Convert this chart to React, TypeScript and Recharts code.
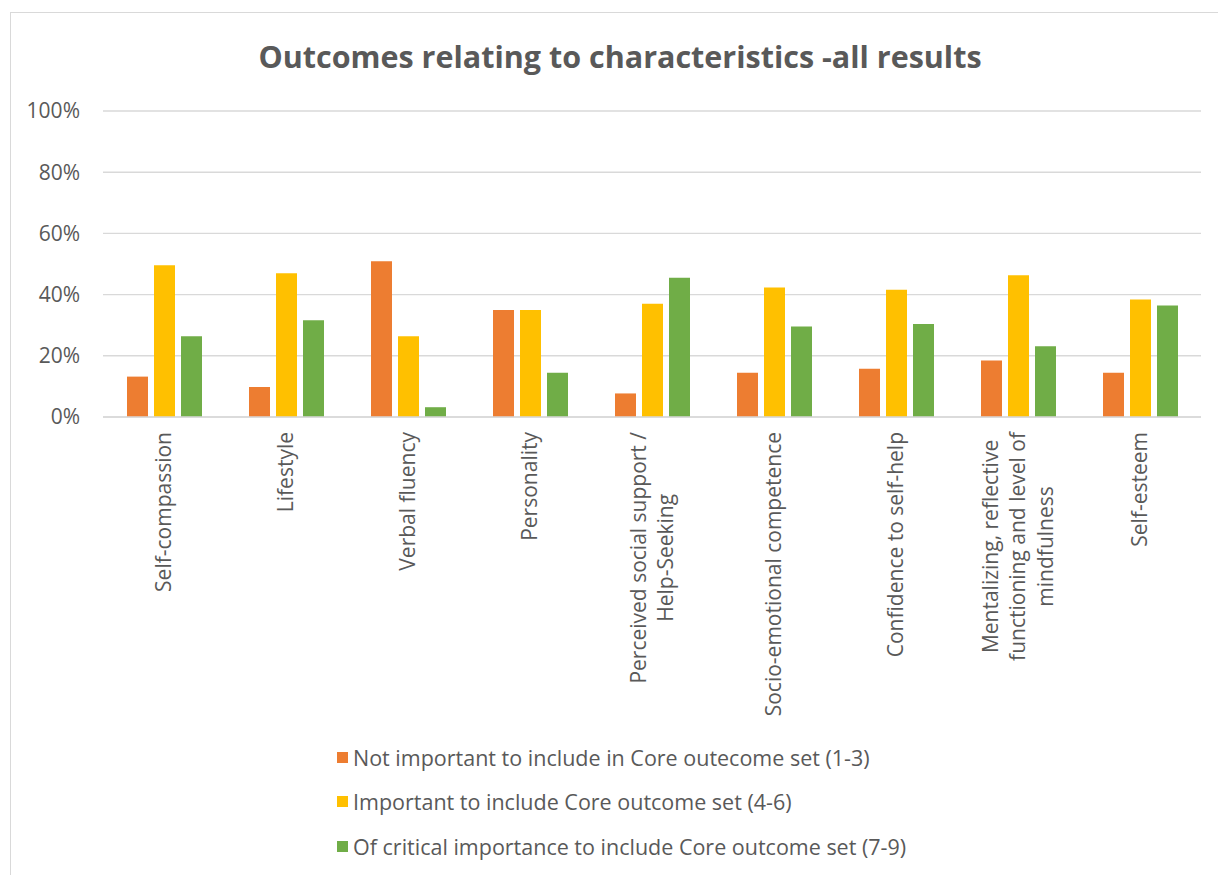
import React from 'react'
import { BarChart, Bar, XAxis, YAxis, CartesianGrid, Legend } from 'recharts'

const CATEGORIES = [
  'Self-compassion',
  'Lifestyle',
  'Verbal fluency',
  'Personality',
  'Perceived social support /\nHelp-Seeking',
  'Socio-emotional competence',
  'Confidence to self-help',
  'Mentalizing,  reflective\nfunctioning and level of\nmindfulness',
  'Self-esteem',
]
const NOT_IMPORTANT = [13.2, 9.8, 50.9, 35, 7.7, 14.5, 15.8, 18.5, 14.5]
const IMPORTANT = [49.6, 47, 26.4, 35, 37, 42.3, 41.6, 46.3, 38.4]
const CRITICAL = [26.4, 31.6, 3.2, 14.5, 45.5, 29.6, 30.4, 23.1, 36.4]
const Y_TICKS = [0, 20, 40, 60, 80, 100]

const SERIES_NAMES = [
  'Not important to include in Core outecome set (1-3)',
  'Important to include Core outcome set (4-6)',
  'Of critical importance to include Core outcome set (7-9)',
]
const COLORS = ['#ED7D31', '#FFC000', '#70AD47']

const TEXT = '#595959'
const FONT_FAMILY = '"Open Sans", sans-serif'
const FONT_SIZE = 21

const data = CATEGORIES.map((c, i) => ({
  name: c,
  low: NOT_IMPORTANT[i],
  mid: IMPORTANT[i],
  high: CRITICAL[i],
}))

let ctx: CanvasRenderingContext2D | null = null
function textWidth(s: string): number {
  if (!ctx) ctx = document.createElement('canvas').getContext('2d')
  if (!ctx) return s.length * FONT_SIZE * 0.5
  ctx.font = `${FONT_SIZE}px ${FONT_FAMILY}`
  return ctx.measureText(s).width
}

// rotated, multi-line category label; lines centred on each other, block starts under the axis
function CategoryTick(props: any) {
  const { x, y, payload } = props
  const lines = String(payload.value).split('\n')
  const maxW = Math.max(...lines.map(textWidth))
  const lh = 27.5
  const cy = y + maxW / 2
  return (
    <g>
      {lines.map((l, i) => {
        const off = (i - (lines.length - 1) / 2) * lh
        return (
          <text
            key={i}
            transform={`translate(${x + off},${cy}) rotate(-90)`}
            textAnchor="middle"
            dy="0.35em"
            fill={TEXT}
            fontSize={FONT_SIZE}
            fontFamily={FONT_FAMILY}
          >
            {l}
          </text>
        )
      })}
    </g>
  )
}

function LegendContent(props: any) {
  const items = [...(props.payload || [])].sort(
    (a: any, b: any) => SERIES_NAMES.indexOf(a.value) - SERIES_NAMES.indexOf(b.value),
  )
  return (
    <div style={{ fontFamily: FONT_FAMILY, fontSize: 21.5, color: TEXT }}>
      {items.map((p: any) => (
        <div key={p.value} style={{ display: 'flex', alignItems: 'center', height: 44.5, whiteSpace: 'nowrap' }}>
          <span style={{ width: 11, height: 11, background: p.color, marginRight: 5, display: 'inline-block' }} />
          <span>{p.value}</span>
        </div>
      ))}
    </div>
  )
}

export default function App() {
  return (
    <div style={{ position: 'absolute', left: 0, top: 0, width: 1218, height: 875, overflow: 'hidden', background: '#fff' }}>
      <div
        style={{
          position: 'absolute',
          left: 10,
          top: 12,
          width: 1300,
          height: 1000,
          border: '1px solid #d9d9d9',
        }}
      />
      <div
        style={{
          position: 'absolute',
          left: 0,
          width: 1240,
          top: 35,
          textAlign: 'center',
          fontFamily: FONT_FAMILY,
          fontWeight: 700,
          fontSize: 30.5,
          color: TEXT,
        }}
      >
        Outcomes relating to characteristics -all results
      </div>
      <div style={{ position: 'absolute', left: 0, top: 0 }}>
        <BarChart
          width={1218}
          height={875}
          data={data}
          margin={{ top: 111, right: 17, bottom: 0, left: 0 }}
          barSize={21}
          barGap={6}
        >
          <CartesianGrid vertical={false} stroke="#d9d9d9" strokeWidth={1.4} />
          <XAxis
            dataKey="name"
            interval={0}
            height={458}
            tickSize={0}
            tickMargin={15}
            axisLine={{ stroke: '#d9d9d9', strokeWidth: 1.4 }}
            tickLine={false}
            tick={<CategoryTick />}
          />
          <YAxis
            width={103}
            domain={[0, 100]}
            ticks={Y_TICKS}
            tickFormatter={(v: number) => `${v}%`}
            axisLine={false}
            tickLine={false}
            tickSize={0}
            tickMargin={23}
            tick={{ fill: TEXT, fontSize: FONT_SIZE, fontFamily: FONT_FAMILY }}
          />
          <Legend
            layout="vertical"
            align="center"
            verticalAlign="middle"
            wrapperStyle={{ left: 337, top: 735, width: 720 }}
            content={<LegendContent />}
          />
          <Bar dataKey="low" name={SERIES_NAMES[0]} fill={COLORS[0]} isAnimationActive={false} />
          <Bar dataKey="mid" name={SERIES_NAMES[1]} fill={COLORS[1]} isAnimationActive={false} />
          <Bar dataKey="high" name={SERIES_NAMES[2]} fill={COLORS[2]} isAnimationActive={false} />
        </BarChart>
      </div>
    </div>
  )
}
